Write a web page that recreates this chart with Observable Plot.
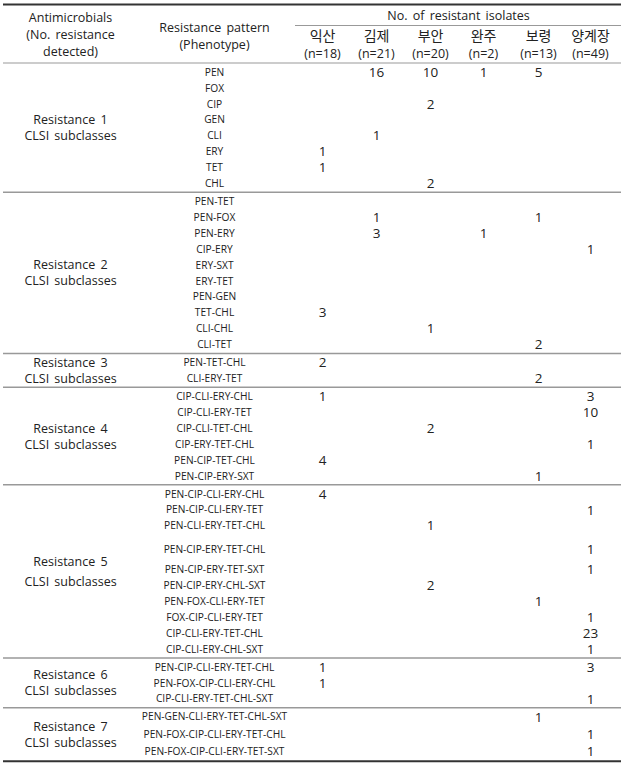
<!DOCTYPE html>
<html>
<head>
<meta charset="utf-8">
<script src="https://cdn.jsdelivr.net/npm/d3@7"></script>
<script src="https://cdn.jsdelivr.net/npm/@observablehq/plot@0.6"></script>
<style>
  body { margin: 0; background: #fff; }
  #chart svg text { word-spacing: 2px; }
</style>
</head>
<body>
<div id="chart"></div>
<script>
// ---------------- DATA ----------------
const cities = ["익산", "김제", "부안", "완주", "보령", "양계장"];
const cityN = [18, 21, 20, 2, 13, 49];

const headerCol1 = ["Antimicrobials", "(No. resistance", "detected)"];
const headerCol2 = ["Resistance pattern", "(Phenotype)"];
const headerSpan = "No. of resistant isolates";

const groupLabels = ["Resistance 1", "Resistance 2", "Resistance 3", "Resistance 4",
                     "Resistance 5", "Resistance 6", "Resistance 7"];
const groupSubLabel = "CLSI subclasses";

// values per row, in city order (null = blank)
const g1Patterns = ["PEN", "FOX", "CIP", "GEN", "CLI", "ERY", "TET", "CHL"];
const g1Counts = [
  [null, 16, 10, 1, 5, null],
  [null, null, null, null, null, null],
  [null, null, 2, null, null, null],
  [null, null, null, null, null, null],
  [null, 1, null, null, null, null],
  [1, null, null, null, null, null],
  [1, null, null, null, null, null],
  [null, null, 2, null, null, null]
];
const g2Patterns = ["PEN-TET", "PEN-FOX", "PEN-ERY", "CIP-ERY", "ERY-SXT", "ERY-TET",
                    "PEN-GEN", "TET-CHL", "CLI-CHL", "CLI-TET"];
const g2Counts = [
  [null, null, null, null, null, null],
  [null, 1, null, null, 1, null],
  [null, 3, null, 1, null, null],
  [null, null, null, null, null, 1],
  [null, null, null, null, null, null],
  [null, null, null, null, null, null],
  [null, null, null, null, null, null],
  [3, null, null, null, null, null],
  [null, null, 1, null, null, null],
  [null, null, null, null, 2, null]
];
const g3Patterns = ["PEN-TET-CHL", "CLI-ERY-TET"];
const g3Counts = [
  [2, null, null, null, null, null],
  [null, null, null, null, 2, null]
];
const g4Patterns = ["CIP-CLI-ERY-CHL", "CIP-CLI-ERY-TET", "CIP-CLI-TET-CHL",
                    "CIP-ERY-TET-CHL", "PEN-CIP-TET-CHL", "PEN-CIP-ERY-SXT"];
const g4Counts = [
  [1, null, null, null, null, 3],
  [null, null, null, null, null, 10],
  [null, null, 2, null, null, null],
  [null, null, null, null, null, 1],
  [4, null, null, null, null, null],
  [null, null, null, null, 1, null]
];
const g5Patterns = ["PEN-CIP-CLI-ERY-CHL", "PEN-CIP-CLI-ERY-TET", "PEN-CLI-ERY-TET-CHL",
                    "PEN-CIP-ERY-TET-CHL", "PEN-CIP-ERY-TET-SXT", "PEN-CIP-ERY-CHL-SXT",
                    "PEN-FOX-CLI-ERY-TET", "FOX-CIP-CLI-ERY-TET", "CIP-CLI-ERY-TET-CHL",
                    "CIP-CLI-ERY-CHL-SXT"];
const g5Counts = [
  [4, null, null, null, null, null],
  [null, null, null, null, null, 1],
  [null, null, 1, null, null, null],
  [null, null, null, null, null, 1],
  [null, null, null, null, null, 1],
  [null, null, 2, null, null, null],
  [null, null, null, null, 1, null],
  [null, null, null, null, null, 1],
  [null, null, null, null, null, 23],
  [null, null, null, null, null, 1]
];
const g6Patterns = ["PEN-CIP-CLI-ERY-TET-CHL", "PEN-FOX-CIP-CLI-ERY-CHL", "CIP-CLI-ERY-TET-CHL-SXT"];
const g6Counts = [
  [1, null, null, null, null, 3],
  [1, null, null, null, null, null],
  [null, null, null, null, null, 1]
];
const g7Patterns = ["PEN-GEN-CLI-ERY-TET-CHL-SXT", "PEN-FOX-CIP-CLI-ERY-TET-CHL", "PEN-FOX-CIP-CLI-ERY-TET-SXT"];
const g7Counts = [
  [null, null, null, null, 1, null],
  [null, null, null, null, null, 1],
  [null, null, null, null, null, 1]
];

// ---------------- LAYOUT (table geometry) ----------------
const L = {
  width: 624, height: 769,
  left: 3, right: 621, spanLeft: 295,
  colGroup: 70, colPattern: 214,
  colCity: [322, 376, 430, 483, 538, 590],
  firstRow: 72, rowStep: 15.9, groupGap: 2.1,
  extraBefore: {
    "PEN-CIP-ERY-TET-CHL": 8, "PEN-CIP-ERY-TET-SXT": 4,
    "PEN-FOX-CIP-CLI-ERY-TET-CHL": 2, "PEN-FOX-CIP-CLI-ERY-TET-SXT": 1
  },
  topRule: 4, spanRule: 25, headRule: 62.5, bottomGap: 9.3,
  col1Lines: [17, 34, 51], col2Lines: [27, 44],
  spanTitle: 15, cityLine: 36, nLine: 53,
  groupLabelHalf: {default: 8, 4: 10}
};

// ---------------- BUILD TABLE ----------------
const groups = [
  [g1Patterns, g1Counts], [g2Patterns, g2Counts], [g3Patterns, g3Counts],
  [g4Patterns, g4Counts], [g5Patterns, g5Counts], [g6Patterns, g6Counts],
  [g7Patterns, g7Counts]
];

const rows = [];
const cells = [];
const groupInfo = [];
let y = L.firstRow;
let first = true;
groups.forEach(([pats, counts], gi) => {
  let gFirst = null, gLast = null;
  pats.forEach((p, pi) => {
    if (!first) {
      y += L.rowStep;
      if (pi === 0) y += L.groupGap;
    }
    first = false;
    y += L.extraBefore[p] || 0;
    if (gFirst === null) gFirst = y;
    gLast = y;
    rows.push({pattern: p, y});
    counts[pi].forEach((v, ci) => {
      if (v != null) cells.push({x: L.colCity[ci], y, value: v});
    });
  });
  groupInfo.push({gi, first: gFirst, last: gLast});
});

const groupTexts = [];
groupInfo.forEach(g => {
  const c = (g.first + g.last) / 2;
  const h = L.groupLabelHalf[g.gi] ?? L.groupLabelHalf.default;
  groupTexts.push({x: L.colGroup, y: c - h, text: groupLabels[g.gi]});
  groupTexts.push({x: L.colGroup, y: c + h, text: groupSubLabel});
});

const separators = [];
for (let i = 0; i < groupInfo.length - 1; i++) {
  separators.push((groupInfo[i].last + groupInfo[i + 1].first) / 2 - 0.5);
}
const bottomRule = groupInfo[groupInfo.length - 1].last + L.bottomGap;

const headerTexts = [
  ...headerCol1.map((t, i) => ({x: L.colGroup, y: L.col1Lines[i], text: t})),
  ...headerCol2.map((t, i) => ({x: L.colPattern, y: L.col2Lines[i], text: t})),
  {x: (L.spanLeft + L.right) / 2, y: L.spanTitle, text: headerSpan}
];
const cityHeader = [
  ...cities.map((c, i) => ({x: L.colCity[i], y: L.cityLine, text: c})),
  ...cityN.map((n, i) => ({x: L.colCity[i], y: L.nLine, text: `(n=${n})`}))
];

const font = "'Open Sans', 'Noto Sans CJK KR', sans-serif";

const chart = Plot.plot({
  width: L.width,
  height: L.height,
  margin: 0,
  x: {type: "linear", domain: [0, L.width], range: [0, L.width], axis: null},
  y: {type: "linear", domain: [0, L.height], range: [0, L.height], axis: null},
  style: {fontFamily: font, background: "#fff", color: "#222", overflow: "visible"},
  marks: [
    // rules
    Plot.ruleY([L.topRule], {x1: L.left, x2: L.right, stroke: "#333", strokeWidth: 2}),
    Plot.ruleY([L.spanRule], {x1: L.spanLeft, x2: L.right, stroke: "#999", strokeWidth: 1}),
    Plot.ruleY([L.headRule], {x1: L.left, x2: L.right, stroke: "#999", strokeWidth: 1.2}),
    Plot.ruleY(separators, {x1: L.left, x2: L.right, stroke: "#999", strokeWidth: 1.5}),
    Plot.ruleY([bottomRule], {x1: L.left, x2: L.right, stroke: "#333", strokeWidth: 2}),
    // header
    Plot.text(headerTexts, {x: "x", y: "y", text: "text", fontSize: 12.5, fill: "#222"}),
    Plot.text(cityHeader.slice(0, cities.length), {x: "x", y: "y", text: "text", fontSize: 14, fill: "#222", fontFamily: "'Noto Sans CJK KR', sans-serif"}),
    Plot.text(cityHeader.slice(cities.length), {x: "x", y: "y", text: "text", fontSize: 12.5, fill: "#222"}),
    // group labels
    Plot.text(groupTexts, {x: "x", y: "y", text: "text", fontSize: 12.5, fill: "#222"}),
    // phenotype labels
    Plot.text(rows, {x: () => L.colPattern, y: "y", text: "pattern", fontSize: 10.2, fill: "#222"}),
    // counts
    Plot.text(cells, {x: "x", y: "y", text: d => String(d.value), fontSize: 13.5, fill: "#222"})
  ]
});
document.getElementById("chart").appendChild(chart);
</script>
</body>
</html>
